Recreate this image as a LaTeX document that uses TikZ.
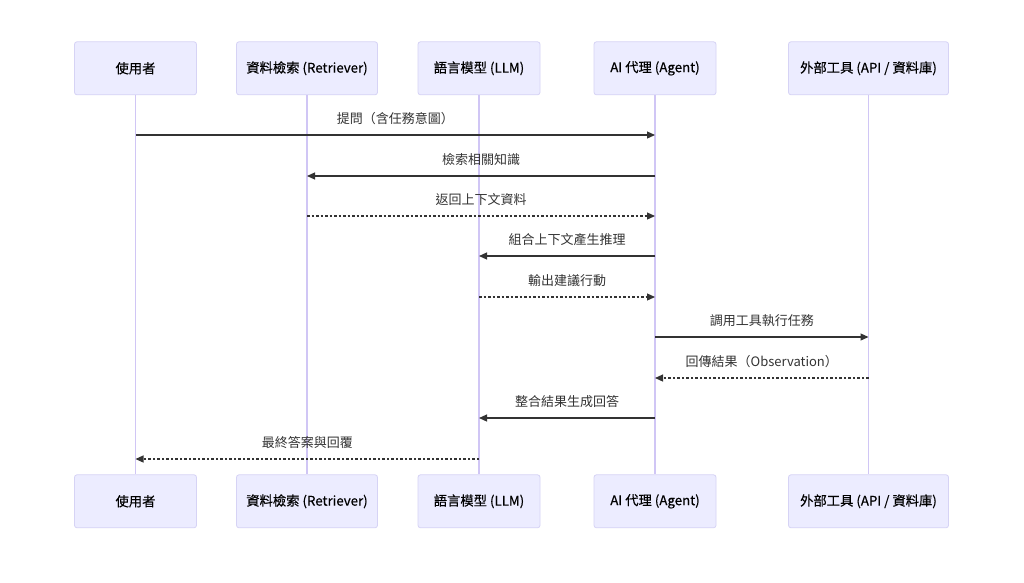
\documentclass[tikz,border=0pt]{standalone}
\usepackage{fontspec}
\setmainfont{Noto Sans CJK TC}
\newfontfamily\actorfont[FakeBold=0.4]{Noto Sans CJK TC}
\usetikzlibrary{arrows.meta}
\definecolor{actfill}{HTML}{ECECFF}
\definecolor{actdraw}{HTML}{D6D3F5}
\definecolor{lifeln}{HTML}{D0C6F5}
\definecolor{msgcol}{HTML}{333333}
\tikzset{
  x=1pt, y=-1pt,
  actor/.style={draw=actdraw, fill=actfill, line width=0.8pt, rounded corners=2.5pt,
    minimum height=53pt, inner sep=0pt, font=\actorfont\fontsize{13.3}{15}\selectfont, text=black},
  lifeline/.style={draw=lifeln, line width=1.4pt},
  msg/.style={draw=msgcol, line width=1.2pt, -{Triangle[length=8pt,width=7pt]}},
  reply/.style={msg, dash pattern=on 2.5pt off 2pt},
  lbl/.style={font=\fontsize{13}{15}\selectfont, text=msgcol, inner sep=0pt}
}
\begin{document}
\begin{tikzpicture}
\useasboundingbox[fill=white] (0,0) rectangle (1024,582);
% top actors
\node[actor, minimum width=122pt] (u1) at (135.5,68.3) {使用者};
\node[actor, minimum width=141pt] (r1) at (307,68.3) {資料檢索 (Retriever)};
\node[actor, minimum width=122pt] (l1) at (479,68.3) {語言模型 (LLM)};
\node[actor, minimum width=122pt] (a1) at (655,68.3) {AI 代理 (Agent)};
\node[actor, minimum width=160pt] (t1) at (868.5,68.3) {外部工具 (API / 資料庫)};
% bottom actors
\node[actor, minimum width=122pt] (u2) at (135.5,501.3) {使用者};
\node[actor, minimum width=141pt] (r2) at (307,501.3) {資料檢索 (Retriever)};
\node[actor, minimum width=122pt] (l2) at (479,501.3) {語言模型 (LLM)};
\node[actor, minimum width=122pt] (a2) at (655,501.3) {AI 代理 (Agent)};
\node[actor, minimum width=160pt] (t2) at (868.5,501.3) {外部工具 (API / 資料庫)};
% lifelines
\draw[lifeline] (u1.south) -- (u2.north);
\draw[lifeline] (r1.south) -- (r2.north);
\draw[lifeline] (l1.south) -- (l2.north);
\draw[lifeline] (a1.south) -- (a2.north);
\draw[lifeline] (t1.south) -- (t2.north);
% message anchor coordinates
\coordinate (u135) at (u1.south |- 0,135);
\coordinate (a135) at (a1.south |- 0,135);
\coordinate (a176) at (a1.south |- 0,176);
\coordinate (r176) at (r1.south |- 0,176);
\coordinate (r216) at (r1.south |- 0,216);
\coordinate (a216) at (a1.south |- 0,216);
\coordinate (a256) at (a1.south |- 0,256);
\coordinate (l256) at (l1.south |- 0,256);
\coordinate (l297) at (l1.south |- 0,297);
\coordinate (a297) at (a1.south |- 0,297);
\coordinate (a337) at (a1.south |- 0,337);
\coordinate (t337) at (t1.south |- 0,337);
\coordinate (t378) at (t1.south |- 0,378);
\coordinate (a378) at (a1.south |- 0,378);
\coordinate (a418) at (a1.south |- 0,418);
\coordinate (l418) at (l1.south |- 0,418);
\coordinate (l459) at (l1.south |- 0,459);
\coordinate (u459) at (u1.south |- 0,459);
% messages
\draw[msg] (u135) -- node[lbl, above=10pt] (m1) {提問（含任務意圖）} (a135);
\draw[msg] (a176) -- node[lbl, above=10pt] (m2) {檢索相關知識} (r176);
\draw[reply] (r216) -- node[lbl, above=10pt] (m3) {返回上下文資料} (a216);
\draw[msg] (a256) -- node[lbl, above=10pt] (m4) {組合上下文產生推理} (l256);
\draw[reply] (l297) -- node[lbl, above=10pt] (m5) {輸出建議行動} (a297);
\draw[msg] (a337) -- node[lbl, above=10pt] (m6) {調用工具執行任務} (t337);
\draw[reply] (t378) -- node[lbl, above=10pt] (m7) {回傳結果（Observation）} (a378);
\draw[msg] (a418) -- node[lbl, above=10pt] (m8) {整合結果生成回答} (l418);
\draw[reply] (l459) -- node[lbl, above=10pt] (m9) {最終答案與回覆} (u459);
\end{tikzpicture}
\end{document}
